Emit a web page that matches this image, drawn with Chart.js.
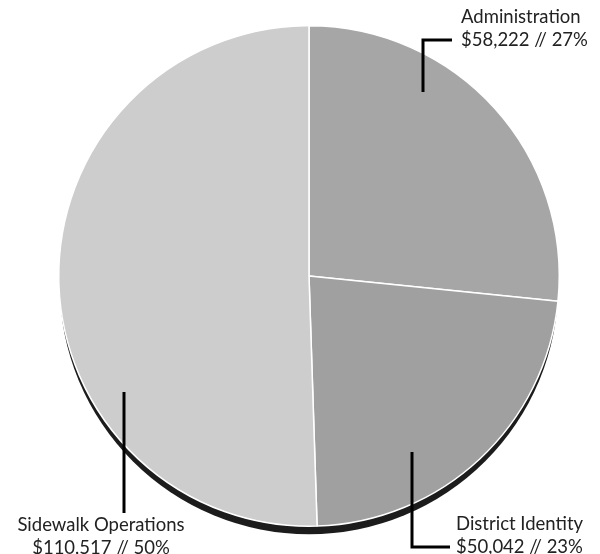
<!DOCTYPE html>
<html>
<head>
<meta charset="utf-8">
<script src="https://cdn.jsdelivr.net/npm/chart.js@4.4.1/dist/chart.umd.min.js"></script>
<style>
  html, body { margin: 0; padding: 0; background: #fff; }
  #wrap { width: 600px; height: 554px; }
</style>
</head>
<body>
<div id="wrap"><canvas id="pieChart"></canvas></div>
<script>
var categories = ["Administration", "District Identity", "Sidewalk Operations"];
var amounts = [58222, 50042, 110517];
var percents = [27, 23, 50];
var sliceColors = ["#a6a6a6", "#a0a0a0", "#cdcdcd"];

// label placement, px relative to the pie centre
var leaders = [
  { x: 114, y1: -184, y2: -236, hx: 143, tx: 152, ty: -259, align: "left" },
  { x: 103, y1: 176, y2: 271, hx: 141, tx: 147, ty: 248, align: "left" },
  { x: -185, y1: 116, y2: 237, hx: -185, tx: -208, ty: 249, align: "center" },
];

function money(v) {
  return "$" + v.toLocaleString("en-US");
}

var shadowPlugin = {
  id: "shadow",
  beforeDatasetsDraw: function (chart) {
    var arc = chart.getDatasetMeta(0).data[0];
    var c = chart.ctx;
    c.save();
    c.beginPath();
    c.arc(arc.x, arc.y + 9, arc.outerRadius - 1, 0, Math.PI * 2);
    c.fillStyle = "#1c1c1c";
    c.fill();
    c.restore();
  },
};

var labelPlugin = {
  id: "leaders",
  afterDatasetsDraw: function (chart) {
    var arc = chart.getDatasetMeta(0).data[0];
    var cx = arc.x, cy = arc.y;
    var c = chart.ctx;
    c.save();
    c.strokeStyle = "#000";
    c.lineWidth = 3;
    c.fillStyle = "#222";
    c.font = "18.5px Lato";
    c.textBaseline = "middle";
    leaders.forEach(function (l, i) {
      c.beginPath();
      c.moveTo(cx + l.x, cy + l.y1);
      c.lineTo(cx + l.x, cy + l.y2);
      c.lineTo(cx + l.hx, cy + l.y2);
      c.stroke();
      c.textAlign = l.align;
      c.fillText(categories[i], cx + l.tx, cy + l.ty);
      c.fillText(money(amounts[i]) + " // " + percents[i] + "%", cx + l.tx, cy + l.ty + 23);
    });
    c.restore();
  },
};

var ctx = document.getElementById("pieChart").getContext("2d");
var myChart = new Chart(ctx, {
  type: "pie",
  data: {
    labels: categories,
    datasets: [
      {
        data: amounts,
        backgroundColor: sliceColors,
        borderColor: "#ffffff",
        borderWidth: 1.5,
      },
    ],
  },
  options: {
    responsive: true,
    maintainAspectRatio: false,
    animation: false,
    layout: { padding: { left: 58, right: 40, top: 25, bottom: 27 } },
    plugins: {
      legend: { display: false },
      tooltip: { enabled: false },
    },
  },
  plugins: [shadowPlugin, labelPlugin],
});
</script>
</body>
</html>
